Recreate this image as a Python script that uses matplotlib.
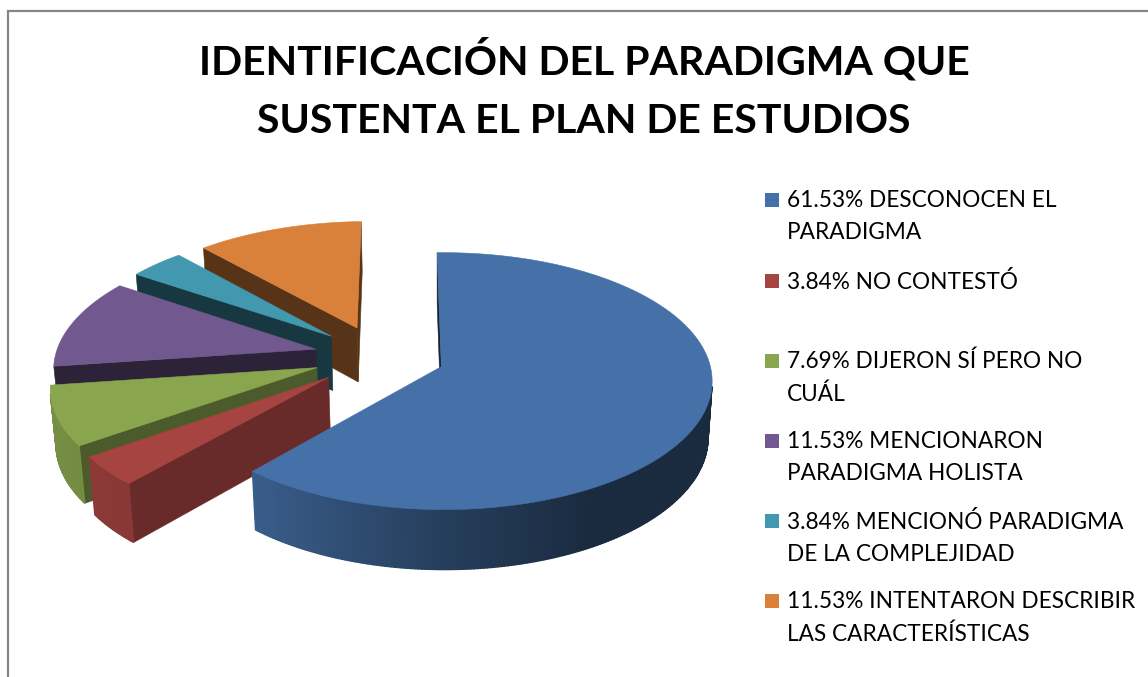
import matplotlib
matplotlib.use("Agg")
import matplotlib.pyplot as plt
import numpy as np
from matplotlib.patches import Polygon, Rectangle

title = "IDENTIFICACIÓN DEL PARADIGMA QUE\nSUSTENTA EL PLAN DE ESTUDIOS"
labels = [
    "61.53% DESCONOCEN EL\nPARADIGMA",
    "3.84% NO CONTESTÓ",
    "7.69% DIJERON SÍ PERO NO\nCUÁL",
    "11.53% MENCIONARON\nPARADIGMA HOLISTA",
    "3.84% MENCIONÓ PARADIGMA\nDE LA COMPLEJIDAD",
    "11.53% INTENTARON DESCRIBIR\nLAS CARACTERÍSTICAS",
]
values = [61.53, 3.84, 7.69, 11.53, 3.84, 11.53]

colors = ["#4571A8", "#A64442", "#89A54E", "#71588F", "#4198AF", "#D9813B"]
wall_shade = [0.3, 0.63, 0.55, 0.4, 0.37, 0.4]
legend_y = [200, 281, 361, 441, 521, 601]

# perspective of the pie, worked out from the picture
X0, Y0 = 441, 367
RX, RY, DEPTH = 267, 126.9, 56.3
PERSP, PERSP_Z, PERSP_U = 0.1127, 0.015, -0.008
CENTER_U, CENTER_V = -0.234, 0.0875
EXPLODE = 0.25
START = -1.0


def project(u, v, z):
    w = 1 + PERSP * v + PERSP_Z * z + PERSP_U * u
    return X0 + RX * u / w, Y0 + (-RY * v + DEPTH * z) / w


def shaded(color, f):
    return tuple(c * f for c in matplotlib.colors.to_rgb(color))


def add_poly(ax, pts, color, lw=0.4):
    ax.add_patch(Polygon(pts, closed=True, facecolor=color, edgecolor=color, lw=lw))


def area(pts):
    x, y = np.array(pts).T
    return 0.5 * np.sum(x * np.roll(y, -1) - np.roll(x, -1) * y)


fig = plt.figure(figsize=(11.48, 6.77), dpi=100)
ax = fig.add_axes([0, 0, 1, 1])
ax.set_xlim(0, 1148)
ax.set_ylim(677, 0)
ax.axis("off")

# chart frame, only top and left are inside the crop
ax.plot([8, 8, 1148], [677, 11, 11], color="#868686", lw=1.6, solid_joinstyle="miter")

spans = np.array(values) / sum(values) * 360
ends = START + np.cumsum(spans)
starts = ends - spans

# back to front, blue goes last
for i in [5, 4, 3, 2, 1, 0]:
    a0, a1 = np.radians(starts[i]), np.radians(ends[i])
    mid = (a0 + a1) / 2
    au = CENTER_U + EXPLODE * np.sin(mid)
    av = CENTER_V + EXPLODE * np.cos(mid)
    th = np.linspace(a0, a1, max(int(spans[i] * 1.5), 8))
    us = au + np.sin(th)
    vs = av + np.cos(th)

    # flat walls
    for uo, vo, first in [(us[0], vs[0], True), (us[-1], vs[-1], False)]:
        if first:
            quad = [project(au, av, 0), project(uo, vo, 0), project(uo, vo, 1), project(au, av, 1)]
        else:
            quad = [project(uo, vo, 0), project(au, av, 0), project(au, av, 1), project(uo, vo, 1)]
        if area(quad) < 0:
            add_poly(ax, quad, shaded(colors[i], wall_shade[i]))

    # curved side, darker to the right
    for k in range(len(th) - 1):
        quad = [project(us[k], vs[k], 0), project(us[k + 1], vs[k + 1], 0),
                project(us[k + 1], vs[k + 1], 1), project(us[k], vs[k], 1)]
        if area(quad) < 0:
            s = np.sin((th[k] + th[k + 1]) / 2)
            f = np.interp(s, [-1, -0.64, 0, 0.5, 1], [0.87, 0.82, 0.55, 0.38, 0.38])
            add_poly(ax, quad, shaded(colors[i], f), lw=1.0)

    top = [project(au, av, 0)] + [project(u, v, 0) for u, v in zip(us, vs)]
    add_poly(ax, top, colors[i])

ax.text(584, 89, title, ha="center", va="center", fontsize=29.5, fontweight="bold",
        family="Lato", color="black", linespacing=1.72)

for y, label, color in zip(legend_y, labels, colors):
    ax.add_patch(Rectangle((765, y - 7), 14, 14, facecolor=color, edgecolor="none"))
    ax.text(787, y - 10, label, ha="left", va="top", fontsize=16.25, family="Lato",
            color="black", linespacing=1.65)

fig.savefig("out.png", dpi=100)
